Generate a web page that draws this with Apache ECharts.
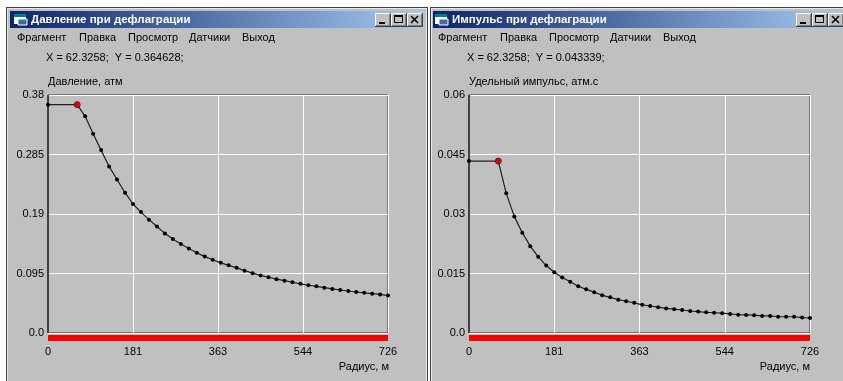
<!DOCTYPE html>
<html>
<head>
<meta charset="utf-8">
<script src="https://cdn.jsdelivr.net/npm/echarts@6/dist/echarts.min.js"></script>
<style>
  html, body { margin: 0; padding: 0; background: #ffffff; }
  #chart { width: 843px; height: 381px; }
</style>
</head>
<body>
<div id="chart"></div>
<script>
// Radius of the sampled points, m
const radius = [0, 62.3258, 79.3, 96.4, 113.4, 130.4, 147.4, 164.5, 181.5, 198.5, 215.5,
  232.6, 249.6, 266.6, 283.6, 300.7, 317.7, 334.7, 351.7, 368.8, 385.8,
  402.8, 419.8, 436.9, 453.9, 470.9, 487.9, 505.0, 522.0, 539.0, 556.0,
  573.1, 590.1, 607.1, 624.1, 641.2, 658.2, 675.2, 692.2, 709.3, 726.0];

// Overpressure, atm
const pressure = [0.364628, 0.364628, 0.346, 0.318, 0.292, 0.266, 0.245, 0.224, 0.206, 0.193, 0.181,
  0.170, 0.159, 0.150, 0.142, 0.135, 0.128, 0.122, 0.117, 0.112, 0.108,
  0.104, 0.0995, 0.0955, 0.092, 0.089, 0.086, 0.0835, 0.081, 0.0785, 0.0762,
  0.0745, 0.0724, 0.0704, 0.0687, 0.0671, 0.0655, 0.0642, 0.0628, 0.0616, 0.0598];

// Specific impulse, atm*s
const impulse = [0.043339, 0.043339, 0.0352, 0.0294, 0.0253, 0.0219, 0.0192, 0.0170, 0.0153, 0.0140, 0.0129,
  0.0118, 0.0110, 0.0103, 0.0095, 0.0090, 0.0084, 0.0080, 0.0076, 0.0071, 0.0068,
  0.0065, 0.0062, 0.0060, 0.0058, 0.00555, 0.0054, 0.0052, 0.0051, 0.0050, 0.0048,
  0.0046, 0.00455, 0.0045, 0.0043, 0.0043, 0.0041, 0.0041, 0.0041, 0.0039, 0.0038];

// Axis ticks and their printed labels
const xTickStep = 181.5;
const xTickLabels = ['0', '181', '363', '544', '726'];
const pressureTickStep = 0.095;
const pressureTickLabels = ['0.0', '0.095', '0.19', '0.285', '0.38'];
const impulseTickStep = 0.015;
const impulseTickLabels = ['0.0', '0.015', '0.03', '0.045', '0.06'];

// Cursor point shown in the status line
const cursorX = 62.3258;
const pressureCursor = 0.364628;
const impulseCursor = 0.043339;

const menuItems = ['Фрагмент', 'Правка', 'Просмотр', 'Датчики', 'Выход'];
const menuOffsets = [17, 79, 128, 189, 242];

const FONT = '"Liberation Sans", Arial, sans-serif';
const GRAY = '#c0c0c0';

function fmt(n, d) { return n.toFixed(d); }

// Classic 3D caption button
function captionButton(x, y, kind) {
  const w = 16, h = 14;
  const els = [
    { type: 'rect', shape: { x: x, y: y, width: w, height: h }, style: { fill: '#404040' }, z: -5 },
    { type: 'rect', shape: { x: x, y: y, width: w - 1, height: h - 1 }, style: { fill: '#ffffff' }, z: -5 },
    { type: 'rect', shape: { x: x + 1, y: y + 1, width: w - 2, height: h - 2 }, style: { fill: '#808080' }, z: -5 },
    { type: 'rect', shape: { x: x + 1, y: y + 1, width: w - 3, height: h - 3 }, style: { fill: GRAY }, z: -5 }
  ];
  if (kind === 'min') {
    els.push({ type: 'rect', shape: { x: x + 4, y: y + 9, width: 6, height: 2 }, style: { fill: '#000' }, z: -4 });
  } else if (kind === 'max') {
    els.push({ type: 'rect', shape: { x: x + 3.5, y: y + 2.5, width: 8, height: 7 }, style: { fill: 'none', stroke: '#000', lineWidth: 1 }, z: -4 });
    els.push({ type: 'rect', shape: { x: x + 3, y: y + 2, width: 9, height: 2 }, style: { fill: '#000' }, z: -4 });
  } else {
    els.push({ type: 'line', shape: { x1: x + 4, y1: y + 3, x2: x + 11, y2: y + 10 }, style: { stroke: '#000', lineWidth: 1.6 }, z: -4 });
    els.push({ type: 'line', shape: { x1: x + 11, y1: y + 3, x2: x + 4, y2: y + 10 }, style: { stroke: '#000', lineWidth: 1.6 }, z: -4 });
  }
  return els;
}

// Window frame, caption, menu and status line
function windowChrome(frameX, frameW, titleX, titleW, dx, title, status, xName) {
  const els = [
    { type: 'rect', shape: { x: frameX, y: 7, width: frameW, height: 380 }, style: { fill: '#404040' }, z: -10 },
    { type: 'rect', shape: { x: frameX + 1, y: 8, width: frameW - 2, height: 380 }, style: { fill: '#e8e8e8' }, z: -10 },
    { type: 'rect', shape: { x: frameX + 2, y: 9, width: frameW - 4, height: 380 }, style: { fill: GRAY }, z: -10 },
    {
      type: 'rect', shape: { x: titleX, y: 11, width: titleW, height: 17 }, z: -8,
      style: {
        fill: new echarts.graphic.LinearGradient(0, 0, 1, 0, [
          { offset: 0, color: '#0a246a' }, { offset: 1, color: '#a6caf0' }
        ])
      }
    },
    // caption icon
    { type: 'rect', shape: { x: dx + 14, y: 14, width: 12, height: 10 }, style: { fill: '#ffffff' }, z: -6 },
    { type: 'rect', shape: { x: dx + 14, y: 14, width: 12, height: 3 }, style: { fill: '#008080' }, z: -6 },
    { type: 'rect', shape: { x: dx + 18, y: 19, width: 9, height: 6 }, style: { fill: '#3a6ea5', stroke: '#ffffff', lineWidth: 1 }, z: -6 },
    {
      type: 'text', x: dx + 31, y: 20, z: -4,
      style: { text: title, fill: '#ffffff', font: 'bold 11.5px ' + FONT, verticalAlign: 'middle' }
    },
    {
      type: 'text', x: dx + 46, y: 58, z: -4,
      style: { text: status, fill: '#000', font: '11px ' + FONT, verticalAlign: 'middle' }
    },
    {
      type: 'text', x: dx + 389, y: 367, z: -4,
      style: { text: xName, fill: '#000', font: '11px ' + FONT, align: 'right', verticalAlign: 'middle' }
    }
  ];
  menuItems.forEach(function (m, i) {
    els.push({
      type: 'text', x: dx + menuOffsets[i], y: 38, z: -4,
      style: { text: m, fill: '#000', font: '11px ' + FONT, verticalAlign: 'middle' }
    });
  });
  els.push.apply(els, captionButton(dx + 375, 13, 'min'));
  els.push.apply(els, captionButton(dx + 391, 13, 'max'));
  els.push.apply(els, captionButton(dx + 407, 13, 'close'));
  return els;
}

function xAxisFor(gridIndex) {
  return {
    gridIndex: gridIndex, type: 'value', min: 0, max: 726, interval: xTickStep, offset: 5,
    axisLine: { show: true, onZero: false, lineStyle: { color: '#ff0000', width: 6, cap: 'butt' } },
    axisTick: { show: false },
    axisLabel: {
      margin: 8, color: '#000', fontSize: 11, fontFamily: FONT,
      showMinLabel: true, showMaxLabel: true,
      formatter: function (v) { return xTickLabels[Math.round(v / xTickStep)]; }
    },
    splitLine: { show: true, lineStyle: { color: '#ffffff', width: 1 } }
  };
}

function yAxisFor(gridIndex, max, step, labels, name) {
  return {
    gridIndex: gridIndex, type: 'value', min: 0, max: max, interval: step,
    name: name, nameLocation: 'end', nameGap: 13,
    nameTextStyle: { align: 'left', verticalAlign: 'middle', color: '#000', fontSize: 11, fontFamily: FONT },
    axisLine: { show: true, onZero: false, lineStyle: { color: '#404040', width: 2, cap: 'butt' } },
    axisTick: { show: false },
    axisLabel: {
      margin: 4, color: '#000', fontSize: 11, fontFamily: FONT,
      formatter: function (v) { return labels[Math.round(v / step)]; }
    },
    splitLine: { show: true, lineStyle: { color: '#ffffff', width: 1 } }
  };
}

function curve(gridIndex, values) {
  return {
    type: 'line', xAxisIndex: gridIndex, yAxisIndex: gridIndex,
    data: radius.map(function (r, i) { return [r, values[i]]; }),
    symbol: 'circle', symbolSize: 4, showSymbol: true, showAllSymbol: true,
    itemStyle: { color: '#000000' },
    lineStyle: { color: '#202020', width: 1.2 },
    emphasis: { disabled: true },
    z: 3
  };
}

function cursorMark(gridIndex, y) {
  return {
    type: 'scatter', xAxisIndex: gridIndex, yAxisIndex: gridIndex,
    data: [[cursorX, y]], symbol: 'circle', symbolSize: 6,
    itemStyle: { color: '#ff0000', borderColor: '#500000', borderWidth: 1 },
    z: 5
  };
}

const chart = echarts.init(document.getElementById('chart'), null, { renderer: 'canvas' });

const graphics = []
  .concat(windowChrome(6, 422, 10, 414, 0, 'Давление при дефлаграции',
    'X = ' + fmt(cursorX, 4) + ';  Y = ' + fmt(pressureCursor, 6) + ';', 'Радиус, м'))
  .concat(windowChrome(430, 425, 433, 412, 421, 'Импульс при дефлаграции',
    'X = ' + fmt(cursorX, 4) + ';  Y = ' + fmt(impulseCursor, 6) + ';', 'Радиус, м'));

chart.setOption({
  animation: false,
  backgroundColor: '#ffffff',
  graphic: { elements: graphics },
  grid: [
    { left: 48, top: 95, width: 340, height: 238, show: true, borderColor: '#303030', borderWidth: 1, backgroundColor: 'transparent' },
    { left: 469, top: 95, width: 341, height: 238, show: true, borderColor: '#303030', borderWidth: 1, backgroundColor: 'transparent' }
  ],
  xAxis: [xAxisFor(0), xAxisFor(1)],
  yAxis: [
    yAxisFor(0, 0.38, pressureTickStep, pressureTickLabels, 'Давление, атм'),
    yAxisFor(1, 0.06, impulseTickStep, impulseTickLabels, 'Удельный импульс, атм.с')
  ],
  series: [
    curve(0, pressure),
    cursorMark(0, pressureCursor),
    curve(1, impulse),
    cursorMark(1, impulseCursor)
  ]
});
</script>
</body>
</html>
